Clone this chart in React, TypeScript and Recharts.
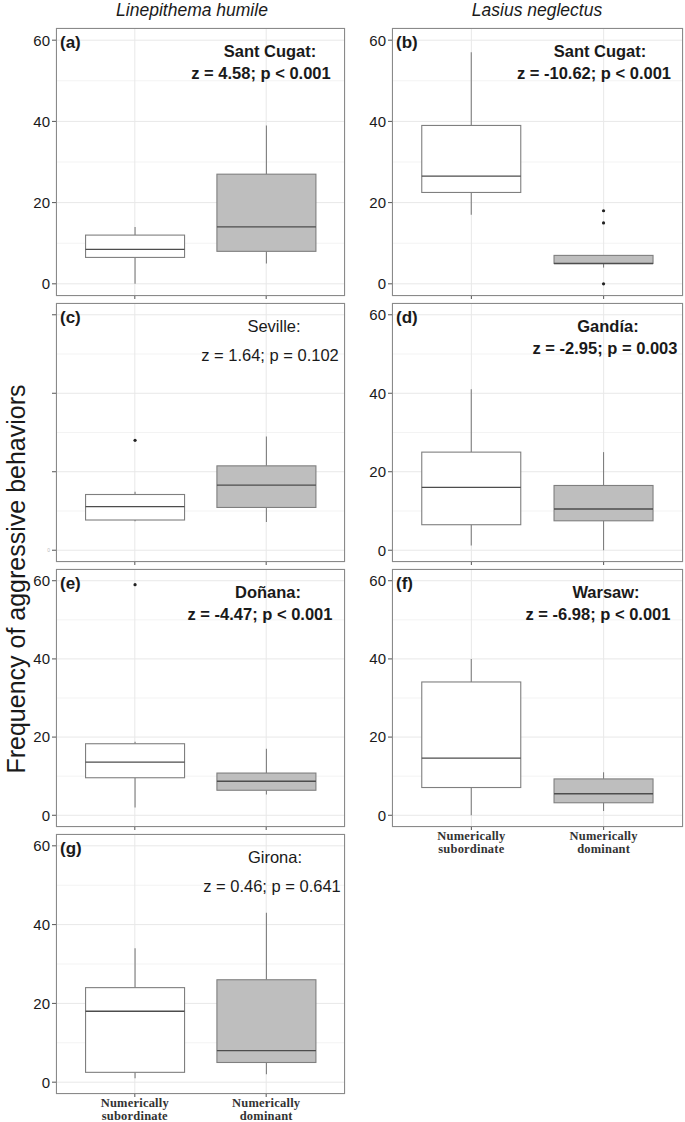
import { ComposedChart, Bar, XAxis, YAxis, CartesianGrid } from 'recharts'

/* ─── Data ─────────────────────────────────────────────────────── */

const categories = ['Numerically subordinate', 'Numerically dominant']
const categoryLines = [
  ['Numerically', 'subordinate'],
  ['Numerically', 'dominant'],
]
const yTicks = [0, 20, 40, 60]
const minorTicks = [10, 30, 50]

// each row: [lower whisker, Q1, median, Q3, upper whisker] for subordinate, dominant
const santCugatLh = [[0, 6.5, 8.5, 12, 14], [5, 8, 14, 27, 39]]
const santCugatLn = [[17, 22.5, 26.5, 39, 57], [4, 5, 5, 7, 7]]
const seville = [[7.4, 7.7, 11.1, 14.2, 14.9], [7.2, 10.9, 16.6, 21.5, 29]]
const gandia = [[1.2, 6.5, 16, 25, 41], [0, 7.5, 10.5, 16.5, 25]]
const donana = [[2, 9.6, 13.6, 18.3, 18.8], [5.3, 6.4, 8.7, 10.8, 17]]
const warsaw = [[0, 7.1, 14.6, 34.1, 40], [1.1, 3.2, 5.5, 9.3, 11]]
const girona = [[1, 2.5, 18, 24, 34], [2, 5, 8, 26, 43]]

const santCugatLnOutliers = [[], [0, 15, 18]]
const sevilleOutliers = [[28], []]
const donanaOutliers = [[59], []]
const noOutliers = [[], []]

/* ─── Theme ────────────────────────────────────────────────────── */

const SANS = 'Liberation Sans, Arial, Helvetica, sans-serif'
const SERIF = 'Liberation Serif, Times New Roman, serif'
const BOX_FILLS = ['#ffffff', '#bebebe']
const BOX_STROKE = '#7f7f7f'
const MEDIAN_STROKE = '#4d4d4d'
const GRID_MAJOR = '#e8e8e8'
const GRID_MINOR = '#f3f3f3'
const TEXT = '#1a1a1a'
const Y_AXIS_W = 56

/* ─── Panels ───────────────────────────────────────────────────── */

const panels = [
  { tag: '(a)', site: 'Sant Cugat:', stat: 'z = 4.58; p < 0.001', bold: true, stats: santCugatLh, outliers: noOutliers,
    left: 56, top: 28, w: 289, h: 268, c1: 270, c2: 261, yLabels: true, xLabels: false },
  { tag: '(b)', site: 'Sant Cugat:', stat: 'z = -10.62; p < 0.001', bold: true, stats: santCugatLn, outliers: santCugatLnOutliers,
    left: 392, top: 28, w: 291, h: 268, c1: 600, c2: 594, yLabels: true, xLabels: false },
  { tag: '(c)', site: 'Seville:', stat: 'z = 1.64; p = 0.102', bold: false, stats: seville, outliers: sevilleOutliers,
    left: 56, top: 303, w: 289, h: 259, c1: 274, c2: 270, yLabels: false, xLabels: false },
  { tag: '(d)', site: 'Gandía:', stat: 'z = -2.95; p = 0.003', bold: true, stats: gandia, outliers: noOutliers,
    left: 392, top: 303, w: 291, h: 259, c1: 608, c2: 605, yLabels: true, xLabels: false },
  { tag: '(e)', site: 'Doñana:', stat: 'z = -4.47; p < 0.001', bold: true, stats: donana, outliers: donanaOutliers,
    left: 56, top: 569, w: 289, h: 258, c1: 268, c2: 260, yLabels: true, xLabels: false },
  { tag: '(f)', site: 'Warsaw:', stat: 'z = -6.98; p < 0.001', bold: true, stats: warsaw, outliers: noOutliers,
    left: 392, top: 569, w: 291, h: 258, c1: 606, c2: 598, yLabels: true, xLabels: true },
  { tag: '(g)', site: 'Girona:', stat: 'z = 0.46; p = 0.641', bold: false, stats: girona, outliers: noOutliers,
    left: 56, top: 834, w: 289, h: 260, c1: 275, c2: 272, yLabels: true, xLabels: true },
]

/* ─── Box shape ────────────────────────────────────────────────── */

function BoxShape(props: any) {
  const { x, y, width, height, payload, index } = props
  const [lo, q1, med, q3, hi] = payload.stats
  const top = Math.min(y, y + height)
  const bottom = Math.max(y, y + height)
  const k = (bottom - top) / (hi - lo)
  const yOf = (v: number) => bottom - (v - lo) * k
  const cx = x + width / 2
  return (
    <g>
      <line x1={cx} x2={cx} y1={yOf(hi)} y2={yOf(q3)} stroke={BOX_STROKE} strokeWidth={1.1} />
      <line x1={cx} x2={cx} y1={yOf(q1)} y2={yOf(lo)} stroke={BOX_STROKE} strokeWidth={1.1} />
      <rect
        x={x}
        y={yOf(q3)}
        width={width}
        height={Math.max(yOf(q1) - yOf(q3), 0.5)}
        fill={BOX_FILLS[index]}
        stroke={BOX_STROKE}
        strokeWidth={1.1}
      />
      <line x1={x} x2={x + width} y1={yOf(med)} y2={yOf(med)} stroke={MEDIAN_STROKE} strokeWidth={1.3} />
      {payload.outliers.map((v: number, i: number) => (
        <circle key={i} cx={cx} cy={yOf(v)} r={1.6} fill="#222" />
      ))}
    </g>
  )
}

function XTick(props: any) {
  const { x, y, index, show } = props
  if (!show) return <g />
  return (
    <g>
      {categoryLines[index].map((t, i) => (
        <text
          key={i}
          x={x}
          y={y + 8 + i * 13}
          textAnchor="middle"
          fontFamily={SERIF}
          fontWeight="bold"
          fontSize={12.5}
          letterSpacing={0.2}
          fill="#333"
        >
          {t}
        </text>
      ))}
    </g>
  )
}

function YTick(props: any) {
  const { x, y, payload, show } = props
  if (show) {
    return (
      <text x={x} y={y} dy="0.36em" textAnchor="end" fontFamily={SANS} fontSize={15} fill={TEXT}>
        {payload.value}
      </text>
    )
  }
  if (payload.value !== 0) return <g />
  return (
    <text x={x} y={y} dy="0.36em" textAnchor="end" fontFamily={SANS} fontSize={5} fill="#bbb">
      0
    </text>
  )
}

function Panel({ p }: { p: (typeof panels)[number] }) {
  const data = categories.map((cat, i) => ({
    cat,
    range: [p.stats[i][0], p.stats[i][4]],
    stats: p.stats[i],
    outliers: p.outliers[i],
  }))
  const xH = p.xLabels ? 40 : 8
  const pad = (p.w * 0.1) / 2.2
  return (
    <>
      <div style={{ position: 'absolute', left: p.left - Y_AXIS_W, top: p.top - 2 }}>
        <ComposedChart
          width={Y_AXIS_W + p.w + 2}
          height={2 + p.h + xH}
          data={data}
          margin={{ top: 2, right: 2, bottom: 0, left: 0 }}
          barCategoryGap="12.5%"
        >
          <CartesianGrid stroke={GRID_MINOR} strokeWidth={1} vertical={false} horizontalValues={minorTicks} />
          <CartesianGrid stroke={GRID_MAJOR} strokeWidth={1} />
          <XAxis
            dataKey="cat"
            type="category"
            padding={{ left: pad, right: pad }}
            axisLine={false}
            tickSize={3}
            tickMargin={2}
            tickLine={{ stroke: '#555' }}
            height={xH}
            interval={0}
            tick={<XTick show={p.xLabels} />}
          />
          <YAxis
            type="number"
            domain={[-3, 63]}
            ticks={yTicks}
            interval={0}
            width={Y_AXIS_W}
            axisLine={false}
            tickSize={4}
            tickMargin={2}
            tickLine={{ stroke: '#555' }}
            tick={<YTick show={p.yLabels} />}
          />
          <Bar dataKey="range" shape={<BoxShape />} isAnimationActive={false} />
        </ComposedChart>
      </div>
      <div
        style={{
          position: 'absolute',
          left: p.left,
          top: p.top,
          width: p.w,
          height: p.h,
          border: '1px solid #8a8a8a',
          boxSizing: 'border-box',
          pointerEvents: 'none',
        }}
      />
    </>
  )
}

export default function App() {
  return (
    <div
      style={{
        position: 'absolute',
        left: 0,
        top: 0,
        width: 685,
        height: 1122,
        background: '#fff',
        overflow: 'hidden',
      }}
    >
      {panels.map((p) => (
        <Panel key={p.tag} p={p} />
      ))}
      <svg
        width={685}
        height={1122}
        style={{ position: 'absolute', left: 0, top: 0, pointerEvents: 'none' }}
        fontFamily={SANS}
      >
        <text x={192} y={16} textAnchor="middle" fontStyle="italic" fontSize={17.5} fill={TEXT}>
          Linepithema humile
        </text>
        <text x={537} y={16} textAnchor="middle" fontStyle="italic" fontSize={17.5} fill={TEXT}>
          Lasius neglectus
        </text>
        <text
          x={25}
          y={579}
          transform="rotate(-90 25 579)"
          textAnchor="middle"
          fontSize={25}
          fill={TEXT}
        >
          Frequency of aggressive behaviors
        </text>
        {panels.map((p) => (
          <g key={p.tag} fill={TEXT}>
            <text x={p.left + 4} y={p.top + 20} fontWeight="bold" fontSize={17}>
              {p.tag}
            </text>
            <text
              x={p.c1}
              y={p.top + 29}
              textAnchor="middle"
              fontWeight={p.bold ? 'bold' : 'normal'}
              fontSize={16.5}
            >
              {p.site}
            </text>
            <text
              x={p.c2}
              y={p.top + (p.bold ? 51 : 58)}
              textAnchor="middle"
              fontWeight={p.bold ? 'bold' : 'normal'}
              fontSize={16.5}
            >
              {p.stat}
            </text>
          </g>
        ))}
      </svg>
    </div>
  )
}
